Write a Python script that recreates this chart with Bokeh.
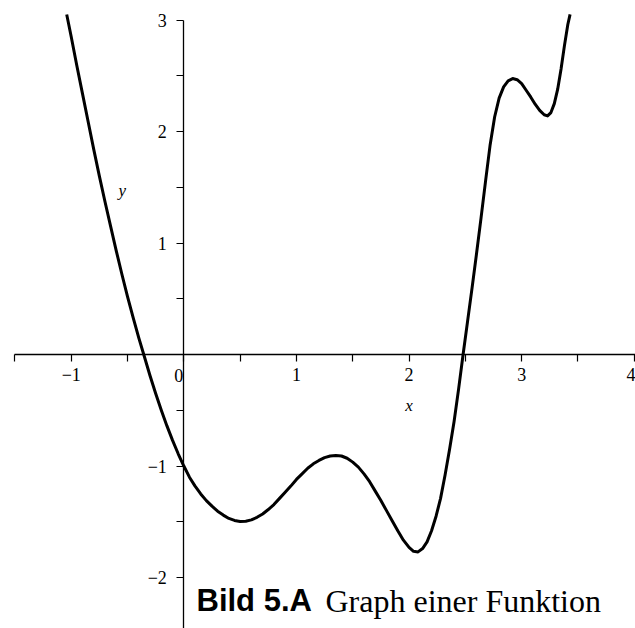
from bokeh.plotting import figure
from bokeh.models import Range1d, FixedTicker, Label
from bokeh.core.properties import value
from bokeh.embed import file_html
from bokeh.resources import INLINE

# Sampled points of the function graph
curve_x = [-1.04, -1.00, -0.95, -0.90, -0.85, -0.80, -0.75, -0.70, -0.65, -0.60,
           -0.55, -0.50, -0.45, -0.40, -0.35, -0.30, -0.25, -0.20, -0.15, -0.10,
           -0.05, 0.00, 0.05, 0.10, 0.15, 0.20, 0.25, 0.30, 0.35, 0.40,
           0.45, 0.50, 0.55, 0.60, 0.65, 0.70, 0.75, 0.80, 0.85, 0.90,
           0.95, 1.00, 1.05, 1.10, 1.15, 1.20, 1.25, 1.30, 1.35, 1.40,
           1.45, 1.50, 1.55, 1.60, 1.65, 1.70, 1.75, 1.80, 1.85, 1.90,
           1.95, 2.00, 2.04, 2.08, 2.12, 2.16, 2.20, 2.24, 2.28, 2.32,
           2.36, 2.40, 2.44, 2.48, 2.52, 2.56, 2.60, 2.64, 2.68, 2.72,
           2.76, 2.80, 2.84, 2.88, 2.92, 2.96, 3.00, 3.04, 3.08, 3.12,
           3.16, 3.20, 3.23, 3.26, 3.29, 3.32, 3.35, 3.38, 3.41, 3.43]
curve_y = [3.05, 2.85, 2.59, 2.34, 2.09, 1.84, 1.60, 1.37, 1.15, 0.93,
           0.72, 0.52, 0.33, 0.15, -0.02, -0.19, -0.35, -0.50, -0.64, -0.77,
           -0.89, -1.00, -1.10, -1.18, -1.25, -1.31, -1.36, -1.405, -1.44, -1.47,
           -1.488, -1.497, -1.495, -1.483, -1.46, -1.43, -1.39, -1.345, -1.29, -1.235,
           -1.18, -1.12, -1.07, -1.02, -0.98, -0.95, -0.925, -0.91, -0.905, -0.91,
           -0.93, -0.965, -1.01, -1.07, -1.14, -1.225, -1.31, -1.40, -1.49, -1.58,
           -1.665, -1.73, -1.765, -1.77, -1.74, -1.68, -1.58, -1.45, -1.29, -1.08,
           -0.85, -0.60, -0.31, 0.00, 0.30, 0.60, 0.91, 1.23, 1.56, 1.88,
           2.13, 2.30, 2.40, 2.455, 2.475, 2.465, 2.43, 2.37, 2.31, 2.245,
           2.19, 2.15, 2.14, 2.17, 2.25, 2.38, 2.56, 2.77, 2.96, 3.05]

x_ticks = [-1, 0, 1, 2, 3, 4]
x_minor = [-1.5, -0.5, 0.5, 1.5, 2.5, 3.5]
y_ticks = [-2, -1, 0, 1, 2, 3]
y_minor = [-2.5, -1.5, -0.5, 0.5, 1.5, 2.5]

caption_bold = "Bild 5.A"
caption_text = "Graph einer Funktion"

p = figure(width=635, height=628,
           x_range=Range1d(-1.628, 4.011), y_range=Range1d(-2.457, 3.175),
           output_backend="svg", toolbar_location=None, min_border=0)
p.outline_line_color = None
p.grid.visible = False
p.background_fill_color = "white"
p.border_fill_color = "white"

tick_font = "Liberation Serif"

# axes crossing at the origin
xa = p.xaxis[0]
xa.fixed_location = 0
xa.bounds = (-1.5, 4.011)
xa.ticker = FixedTicker(ticks=x_ticks, minor_ticks=x_minor)
xa.major_label_overrides = {0: ""}
ya = p.yaxis[0]
ya.fixed_location = 0
ya.bounds = (-2.5, 3.0)
ya.ticker = FixedTicker(ticks=y_ticks, minor_ticks=y_minor)
ya.major_label_overrides = {0: ""}

for ax in (xa, ya):
    ax.axis_line_color = "black"
    ax.axis_line_width = 1.3
    ax.major_tick_line_color = "black"
    ax.minor_tick_line_color = "black"
    ax.major_tick_line_width = 1.2
    ax.minor_tick_line_width = 1.2
    ax.major_tick_in = 0
    ax.major_tick_out = 7
    ax.minor_tick_in = 0
    ax.minor_tick_out = 7
    ax.major_label_text_font = tick_font
    ax.major_label_text_font_size = "18px"
    ax.major_label_text_color = "black"
xa.major_label_standoff = 6
ya.major_label_standoff = 10

# the curve
p.line(curve_x, curve_y, line_color="black", line_width=3, line_join="round")

# origin label and axis names
p.text(x=[0], y=[0], text=["0"], x_offset=-5, y_offset=21,
       text_font=value(tick_font), text_font_size="18px", text_color="black",
       text_align="center", text_baseline="middle")
p.text(x=[2.0], y=[-0.457], text=["x"], text_font=value(tick_font),
       text_font_style="italic", text_font_size="17px", text_color="black",
       text_align="center", text_baseline="middle")
p.text(x=[-0.547], y=[1.47], text=["y"], text_font=value(tick_font),
       text_font_style="italic", text_font_size="17px", text_color="black",
       text_align="center", text_baseline="middle")

# caption
p.add_layout(Label(x=196, y=28, x_units="screen", y_units="screen",
                   text=caption_bold, text_font="Liberation Sans",
                   text_font_style="bold", text_font_size="31px",
                   text_color="black", text_baseline="alphabetic"))
p.add_layout(Label(x=325, y=28, x_units="screen", y_units="screen",
                   text=caption_text, text_font="Liberation Serif",
                   text_font_size="32px", text_color="black",
                   text_baseline="alphabetic"))

open("out.html", "w").write(file_html(p, INLINE))
